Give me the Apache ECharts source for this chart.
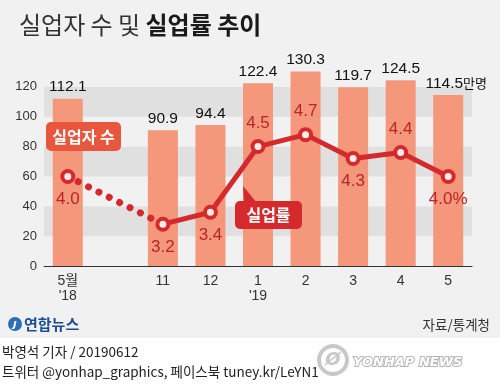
<!DOCTYPE html>
<html><head><meta charset="utf-8">
<script src="https://cdn.jsdelivr.net/npm/echarts@6/dist/echarts.min.js"></script>
<style>html,body{margin:0;padding:0;background:#f1f1f1}#c{width:500px;height:389px}</style>
</head><body><div id="c"></div>
<script>
// ---- data ----
var categories = ["5월\n'18", "", "11", "12", "1\n'19", "2", "3", "4", "5"];
var unemployed = [112.1, null, 90.9, 94.4, 122.4, 130.3, 119.7, 124.5, 114.5]; // 만명
var rates = [4.0, null, 3.2, 3.4, 4.5, 4.7, 4.3, 4.4, 4.0]; // %
var rateLabelPos = ['bottom', null, 'bottom', 'bottom', 'top', 'top', 'bottom', 'top', 'bottom'];
var yTicks = [0, 20, 40, 60, 80, 100, 120];

var KR = '"Noto Sans CJK KR", sans-serif';
var NUM = '"Liberation Sans", "Noto Sans CJK KR", sans-serif';
var last = categories.length - 1;

// dotted connector between 5월'18 and 11
var dotted = rates.map(function (v, i) { return (i === 0 || i === 2) ? v : '-'; });
var rateData = rates.map(function (v, i) {
  if (v == null) return '-';
  return { value: v, label: { position: rateLabelPos[i] } };
});
var barData = unemployed.map(function (v) { return v == null ? '-' : v; });

var chart = echarts.init(document.getElementById('c'), null, { renderer: 'canvas' });
chart.setOption({
  backgroundColor: '#f1f1f1',
  animation: false,
  title: {
    left: 14, top: 8,
    text: '{a|실업자 수 및 }{b|실업률 추이}',
    textStyle: {
      rich: {
        a: { fontFamily: KR, fontSize: 24, color: '#333', fontWeight: 'normal' },
        b: { fontFamily: KR, fontSize: 24, color: '#1a1a1a', fontWeight: 'bold' }
      }
    }
  },
  grid: { left: 44, right: 28, top: 57, bottom: 123 },
  xAxis: {
    type: 'category', data: categories, boundaryGap: true,
    axisTick: { show: false },
    axisLine: { lineStyle: { color: '#333', width: 1 } },
    axisLabel: { color: '#333', fontFamily: NUM, fontSize: 14, lineHeight: 15, margin: 8, interval: 0 }
  },
  yAxis: [{
    type: 'value', min: 0, max: 140, interval: 20,
    axisLine: { show: false }, axisTick: { show: false },
    splitLine: { show: false },
    splitArea: { show: true, areaStyle: { color: ['#f1f1f1', '#e0e0e0'] } },
    axisLabel: {
      color: '#333', fontFamily: NUM, fontSize: 13, margin: 7,
      formatter: function (v) { return yTicks.indexOf(v) >= 0 ? String(v) : ''; }
    }
  }, {
    type: 'value', min: 2.5, max: 6.0, show: false
  }],
  series: [{
    type: 'bar', data: barData, barWidth: 30, z: 1,
    itemStyle: { color: '#f4977b' },
    label: {
      show: true, position: 'top', distance: 4,
      color: '#111', fontFamily: NUM, fontSize: 15.5,
      formatter: function (p) {
        return p.dataIndex === last ? '{v|' + p.value + '}{u|만명}' : String(p.value);
      },
      rich: {
        v: { color: '#111', fontFamily: NUM, fontSize: 15.5 },
        u: { color: '#111', fontFamily: KR, fontSize: 13 }
      }
    },
    labelLayout: function (p) {
      return p.dataIndex === last ? { dx: 8 } : {};
    }
  }, {
    type: 'line', yAxisIndex: 1, data: dotted, connectNulls: true,
    symbol: 'none', z: 3,
    lineStyle: { color: '#d42a2e', width: 7, type: [0.1, 11.5], cap: 'round' }
  }, {
    type: 'line', yAxisIndex: 1, data: rateData, connectNulls: false, z: 4,
    symbol: 'circle', symbolSize: 11, showSymbol: true,
    lineStyle: { color: '#d42a2e', width: 5 },
    itemStyle: { color: '#fbecea', borderColor: '#d42a2e', borderWidth: 4 },
    label: {
      show: true, distance: 7, color: '#b8262b', fontFamily: NUM, fontSize: 17,
      formatter: function (p) {
        var s = Number(p.value).toFixed(1);
        return p.dataIndex === last ? s + '%' : s;
      }
    }
  }],
  graphic: [
    { type: 'rect', shape: { x: 46, y: 122, width: 75, height: 29, r: 5 }, style: { fill: '#e8573d' }, z: 10 },
    { type: 'text', x: 83.5, y: 136.5, style: { text: '실업자 수', fill: '#fff', font: 'bold 16px ' + KR, align: 'center', verticalAlign: 'middle' }, z: 11 },
    { type: 'polygon', shape: { points: [[243, 186], [244, 203], [257, 203]] }, style: { fill: '#d42a2e' }, z: 10 },
    { type: 'rect', shape: { x: 235, y: 201, width: 67, height: 28, r: 5 }, style: { fill: '#d42a2e' }, z: 10 },
    { type: 'text', x: 268.5, y: 215, style: { text: '실업률', fill: '#fff', font: 'bold 16px ' + KR, align: 'center', verticalAlign: 'middle' }, z: 11 },
    // logo
    { type: 'circle', shape: { cx: 15, cy: 324, r: 7 }, style: { fill: '#2b6fb8' }, z: 10 },
    { type: 'text', x: 15, y: 324, style: { text: 'ȷ', fill: '#fff', font: 'italic bold 11px "DejaVu Sans"', align: 'center', verticalAlign: 'middle' }, z: 11 },
    { type: 'text', x: 24, y: 324, style: { text: '연합뉴스', fill: '#1b4d8f', font: 'bold 15px ' + KR, verticalAlign: 'middle' }, z: 10 },
    { type: 'text', x: 490, y: 325, style: { text: '자료/통계청', fill: '#333', font: '13.5px ' + KR, align: 'right', verticalAlign: 'middle' }, z: 10 },
    // footer
    { type: 'rect', shape: { x: 0, y: 338, width: 500, height: 51 }, style: { fill: '#ffffff' }, z: 5 },
    { type: 'text', x: 2, y: 352, style: { text: '박영석 기자 / 20190612', fill: '#222', font: '13.5px ' + KR, verticalAlign: 'middle' }, z: 10 },
    { type: 'text', x: 2, y: 372, style: { text: '트위터 @yonhap_graphics, 페이스북 tuney.kr/LeYN1', fill: '#222', font: '13.5px ' + KR, verticalAlign: 'middle' }, z: 10 },
    { type: 'circle', shape: { cx: 333, cy: 360, r: 14 }, style: { fill: 'none', stroke: '#c8c8c8', lineWidth: 4 }, z: 10 },
    { type: 'text', x: 333, y: 360, style: { text: 'Ø', fill: '#c8c8c8', font: 'italic bold 18px "DejaVu Sans"', align: 'center', verticalAlign: 'middle' }, z: 10 },
    { type: 'text', x: 353, y: 363, style: { text: 'YONHAP NEWS', fill: '#ffffff', stroke: '#b5b5b5', lineWidth: 2, font: 'italic 900 13px "DejaVu Sans"', verticalAlign: 'middle' }, z: 10 }
  ]
});
</script></body></html>
